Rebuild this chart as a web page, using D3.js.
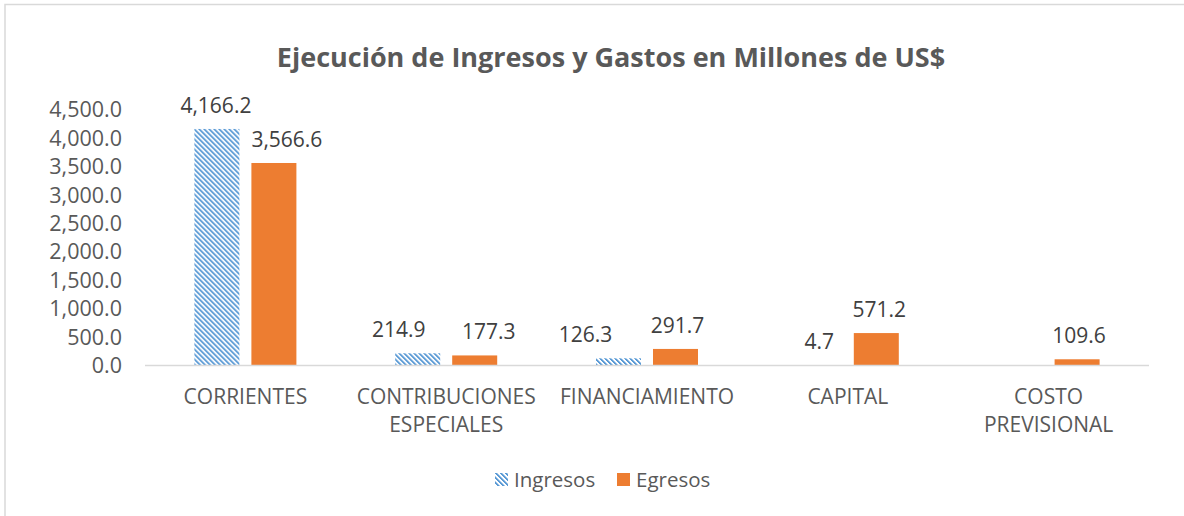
<!DOCTYPE html>
<html>
<head>
<meta charset="utf-8">
<script src="https://cdn.jsdelivr.net/npm/d3@7"></script>
<style>
  body { margin: 0; background: #fff; }
  svg { display: block; font-family: "Open Sans", sans-serif; }
</style>
</head>
<body>
<div id="chart"></div>
<script>
// data
let categories = ["CORRIENTES", "CONTRIBUCIONES ESPECIALES", "FINANCIAMIENTO", "CAPITAL", "COSTO PREVISIONAL"];
let series = ["Ingresos", "Egresos"];
let ingresos = [4166.2, 214.9, 126.3, 4.7, null];
let egresos = [3566.6, 177.3, 291.7, 571.2, 109.6];
let yTicks = [0, 500, 1000, 1500, 2000, 2500, 3000, 3500, 4000, 4500];

let config = {
    width: 1184,
    height: 516,
    title: "Ejecución de Ingresos y Gastos en Millones de US$",
    textColor: "#595959",
    labelColor: "#404040",
    orange: "#ed7d31",
    blue: "#5b9bd5",
    blueSoft: "#a9c9ea",
    // labels were nudged by hand in the original
    labelDx: { Ingresos: [-1, -19, -33, 0, 0], Egresos: [13, 14, 2, 3, 2] }
};

let svg = d3.select("#chart")
    .append("svg")
    .attr("width", config.width)
    .attr("height", config.height);

// hatch pattern for Ingresos (wide downward diagonal), period 5px
let defs = svg.append("defs");
let pat = defs.append("pattern")
    .attr("id", "hatch")
    .attr("patternUnits", "userSpaceOnUse")
    .attr("width", 5)
    .attr("height", 5);
pat.append("rect").attr("width", 5).attr("height", 5).attr("fill", "#fff");
for (let r = 0; r < 5; r++) {
    [[r, config.blue], [r + 1, config.blue], [r + 2, config.blueSoft]].forEach(([c, col]) => {
        pat.append("rect")
            .attr("x", c % 5).attr("y", r)
            .attr("width", 1).attr("height", 1)
            .attr("fill", col)
            .attr("shape-rendering", "crispEdges");
    });
}

// chart frame
svg.append("rect")
    .attr("x", 5).attr("y", 4.5)
    .attr("width", config.width + 20).attr("height", config.height + 20)
    .attr("fill", "none")
    .attr("stroke", "#d9d9d9")
    .attr("stroke-width", 1.5);

svg.append("text")
    .attr("x", 611).attr("y", 67)
    .attr("text-anchor", "middle")
    .attr("font-size", 27)
    .attr("font-weight", "bold")
    .attr("fill", config.textColor)
    .text(config.title);

let x = d3.scaleBand()
    .domain(categories)
    .range([145, 1149]);

let x1 = d3.scaleBand()
    .domain(series)
    .range([0, 102])
    .paddingInner(0.2105);

let y = d3.scaleLinear()
    .domain([0, 4500])
    .range([365.5, 110]);

let values = { Ingresos: ingresos, Egresos: egresos };
let fills = { Ingresos: "url(#hatch)", Egresos: config.orange };

// y axis labels
let yAxis = svg.append("g")
    .attr("transform", "translate(122,0)")
    .call(d3.axisLeft(y).tickValues(yTicks).tickFormat(d3.format(",.1f")).tickSize(0).tickPadding(0));
yAxis.select(".domain").remove();
yAxis.selectAll("text")
    .attr("font-size", 21.5)
    .attr("font-family", "Open Sans, sans-serif")
    .attr("fill", config.textColor);

// bars
let groups = svg.selectAll("g.cat")
    .data(categories)
    .enter().append("g")
    .attr("class", "cat")
    .attr("transform", (d) => `translate(${x(d) + (x.bandwidth() - 102) / 2},0)`);

series.forEach((s) => {
    groups.each(function (d, i) {
        let v = values[s][i];
        if (v == null) return;
        let g = d3.select(this);
        g.append("rect")
            .attr("x", x1(s))
            .attr("y", y(v))
            .attr("width", x1.bandwidth())
            .attr("height", y(0) - y(v))
            .attr("fill", fills[s]);
        g.append("text")
            .attr("x", x1(s) + x1.bandwidth() / 2 + config.labelDx[s][i])
            .attr("y", y(v) - 16)
            .attr("text-anchor", "middle")
            .attr("font-size", 21)
            .attr("fill", config.labelColor)
            .text(d3.format(",.1f")(v));
    });
});

// x axis baseline
svg.append("line")
    .attr("x1", 145).attr("x2", 1149)
    .attr("y1", y(0)).attr("y2", y(0))
    .attr("stroke", "#d9d9d9")
    .attr("stroke-width", 1.5);

// category labels
groups.each(function (d) {
    let t = d3.select(this).append("text")
        .attr("text-anchor", "middle")
        .attr("font-size", 21)
        .attr("fill", config.textColor);
    d.split(" ").forEach((w, k) => {
        t.append("tspan")
            .attr("x", 51)
            .attr("y", 404 + k * 28)
            .text(w);
    });
});

// legend
let legend = svg.append("g").attr("transform", "translate(495,473)");
let lx = [0, 122];
series.forEach((s, i) => {
    legend.append("rect")
        .attr("x", lx[i]).attr("y", 0)
        .attr("width", 13).attr("height", 13)
        .attr("fill", fills[s]);
    legend.append("text")
        .attr("x", lx[i] + 19).attr("y", 14)
        .attr("font-size", 20.5)
        .attr("fill", config.textColor)
        .text(s);
});
</script>
</body>
</html>
